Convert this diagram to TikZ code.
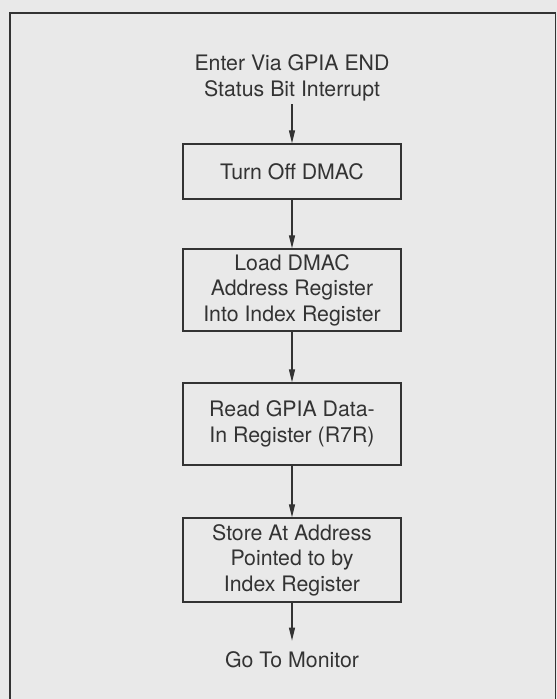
\documentclass[tikz,border=0pt]{standalone}
\usepackage{fontspec}
\setmainfont{TeX Gyre Heros}
\usetikzlibrary{arrows.meta}
\definecolor{paper}{gray}{0.915}
\definecolor{ink}{gray}{0.2}
\tikzset{
  flowbox/.style={draw=ink, line width=1.3pt, minimum width=218pt, align=center,
    font=\fontsize{21.3}{25.5}\selectfont, text=ink, inner sep=2pt},
  flowtext/.style={align=center, font=\fontsize{21.3}{25.5}\selectfont, text=ink},
  flowarrow/.style={draw=ink, line width=1.1pt, -{Triangle[length=13pt,width=6pt]}},
  frameline/.style={draw=ink, line width=1.3pt}
}
\begin{document}
\begin{tikzpicture}[x=1pt,y=1pt]
\useasboundingbox[fill=paper] (0,0) rectangle (557,-699);
\clip (0,0) rectangle (557,-699);
\coordinate (fbl) at (10,-720);
\coordinate (ftl) at (10,-13);
\coordinate (ftr) at (555.5,-13);
\coordinate (fbr) at (555.5,-720);
\draw[frameline] (fbl) -- (ftl) -- (ftr) -- (fbr);
\node[flowtext, inner sep=3pt] (start) at (292,-78) {Enter Via GPIA END\\Status Bit Interrupt};
\node[flowbox, minimum height=55pt] (off) at (292,-171.5) {Turn Off DMAC};
\node[flowbox, minimum height=82pt] (load) at (292,-290) {Load DMAC\\Address Register\\Into Index Register};
\node[flowbox, minimum height=82pt] (read) at (292,-424) {Read GPIA Data-\\In Register (R7R)};
\node[flowbox, minimum height=84pt] (store) at (292,-560) {Store At Address\\Pointed to by\\Index Register};
\node[flowtext, inner sep=11pt] (mon) at (292,-660) {Go To Monitor};
\draw[flowarrow] (start) -- (off);
\draw[flowarrow] (off) -- (load);
\draw[flowarrow] (load) -- (read);
\draw[flowarrow] (read) -- (store);
\draw[flowarrow] (store) -- (mon);
\end{tikzpicture}
\end{document}
